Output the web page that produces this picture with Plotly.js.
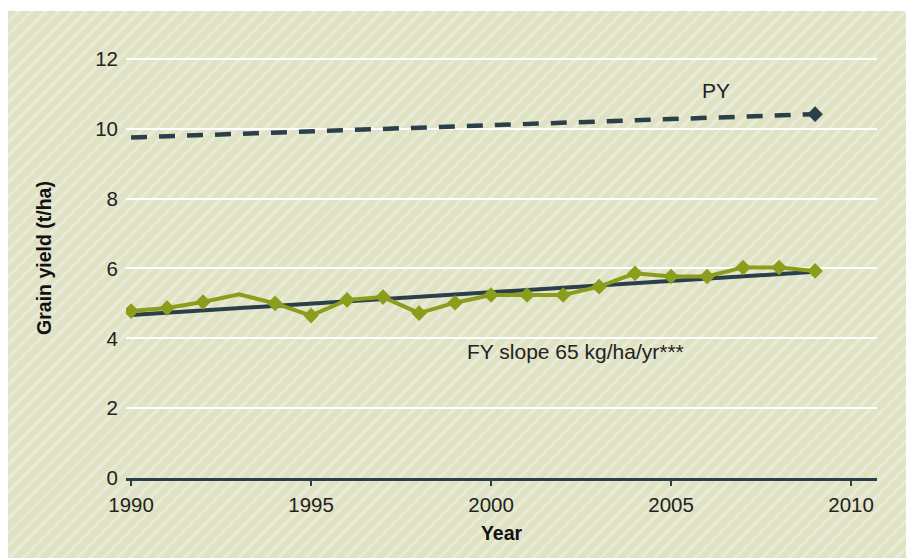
<!DOCTYPE html>
<html>
<head>
<meta charset="utf-8">
<script src="https://cdn.plot.ly/plotly-3.0.1.min.js"></script>
<style>
  html, body { margin: 0; padding: 0; background: #ffffff; }
  #wrap { position: relative; width: 906px; height: 558px; overflow: hidden; }
  #bg {
    position: absolute; left: 8px; top: 11px; width: 898px; height: 547px;
    background-color: #dfe2c3;
    background-image: repeating-linear-gradient(135deg,
      #dfe2c3 0px, #dfe2c3 6px, #e8ead5 6px, #e8ead5 9.5px);
  }
  #chart { position: absolute; left: 0; top: 0; width: 906px; height: 558px; }
</style>
</head>
<body>
<div id="wrap">
  <div id="bg"></div>
  <div id="chart"></div>
</div>
<script>
// ---- data ----
const years = [1990, 1991, 1992, 1993, 1994, 1995, 1996, 1997, 1998, 1999,
               2000, 2001, 2002, 2003, 2004, 2005, 2006, 2007, 2008, 2009];
const farmYield = [4.78, 4.87, 5.04, 5.26, 5.00, 4.65, 5.10, 5.18, 4.72, 5.02,
                   5.24, 5.24, 5.24, 5.48, 5.86, 5.77, 5.77, 6.03, 6.03, 5.93];
const yearsWithoutMarker = [1993];
const fyTrendYears = [1990, 2009];
const fyTrend = [4.67, 5.905];
const pyYears = [1990, 2009];
const potentialYield = [9.75, 10.42];
const xTickVals = [1990, 1995, 2000, 2005, 2010];
const yTickVals = [0, 2, 4, 6, 8, 10, 12];

const dark = '#2b3f4a';
const green = '#8b9d1c';
const font = '"Liberation Sans", Arial, Helvetica, sans-serif';
const tickSize = 20.5;

const traces = [
  {
    x: pyYears, y: potentialYield, type: 'scatter', mode: 'lines+markers',
    line: { color: dark, width: 4.5, dash: '16px,12px' },
    marker: { symbol: 'diamond', color: dark, opacity: 1, line: { width: 0 },
              size: pyYears.map((v, i) => i === pyYears.length - 1 ? 12 : 0) },
    showlegend: false
  },
  {
    x: fyTrendYears, y: fyTrend, type: 'scatter', mode: 'lines',
    line: { color: dark, width: 4 }, showlegend: false
  },
  {
    x: years, y: farmYield, type: 'scatter', mode: 'lines+markers',
    line: { color: green, width: 4 },
    marker: { symbol: 'diamond', color: green, opacity: 1, line: { width: 0 },
              size: years.map(v => yearsWithoutMarker.includes(v) ? 0 : 12) },
    showlegend: false
  }
];

const layout = {
  width: 906, height: 558,
  margin: { l: 126, r: 29, t: 38, b: 80 },
  paper_bgcolor: 'rgba(0,0,0,0)',
  plot_bgcolor: 'rgba(0,0,0,0)',
  font: { family: font, size: tickSize, color: '#222222' },
  showlegend: false,
  xaxis: {
    range: [1989.86, 2010.72],
    tickvals: xTickVals,
    ticktext: xTickVals.map(String),
    ticks: 'outside', ticklen: 5, tickwidth: 1.5, tickcolor: dark,
    showline: true, linecolor: dark, linewidth: 2.5,
    showgrid: false, zeroline: false,
    ticklabelstandoff: 2,
    tickfont: { family: font, size: tickSize, color: '#222222' },
    title: { text: '<b>Year</b>', font: { family: font, size: 19.5, color: '#111111' }, standoff: 12 }
  },
  yaxis: {
    range: [0, 12.6],
    tickvals: yTickVals,
    ticktext: yTickVals.map(String),
    ticks: '', showline: false,
    showgrid: true, gridcolor: '#ffffff', gridwidth: 2,
    zeroline: false,
    ticklabelstandoff: 7,
    tickfont: { family: font, size: tickSize, color: '#222222' },
    title: { text: '<b>Grain yield (t/ha)</b>', font: { family: font, size: 19.5, color: '#111111' }, standoff: 38 }
  },
  annotations: [
    { x: 2006.26, y: 11.11, xref: 'x', yref: 'y', text: 'PY', showarrow: false,
      font: { family: font, size: 21, color: '#222222' } },
    { x: 2002.35, y: 3.62, xref: 'x', yref: 'y', text: 'FY slope 65 kg/ha/yr***', showarrow: false,
      font: { family: font, size: 21, color: '#222222' } }
  ]
};

Plotly.newPlot('chart', traces, layout, { displayModeBar: false, staticPlot: true });
</script>
</body>
</html>
